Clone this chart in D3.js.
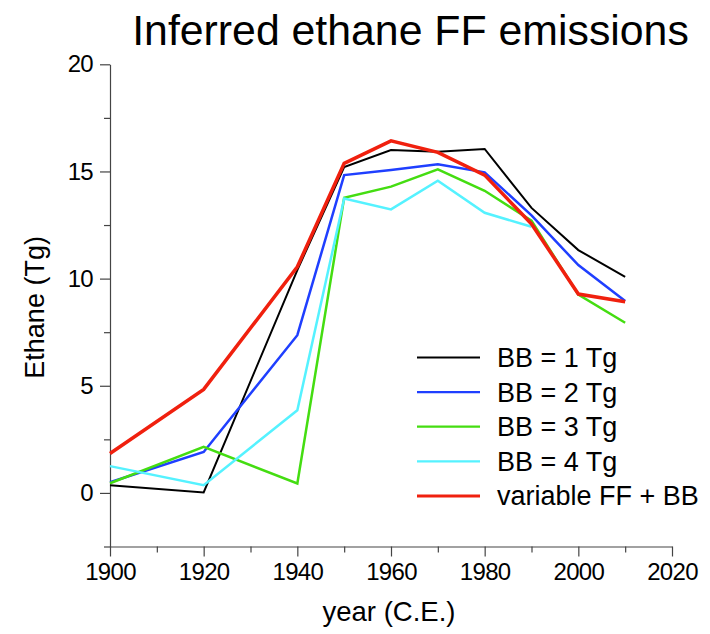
<!DOCTYPE html>
<html>
<head>
<meta charset="utf-8">
<script src="https://cdn.jsdelivr.net/npm/d3@7"></script>
<style>
  html, body { margin: 0; padding: 0; background: #fff; }
  svg { display: block; font-family: "Liberation Sans", Arial, Helvetica, sans-serif; }
</style>
</head>
<body>
<svg id="chart" width="710" height="634"></svg>
<script>
// ---- data ----
const years = [1900, 1920, 1940, 1950, 1960, 1970, 1980, 1990, 2000, 2010];
const bb1 = [0.36, 0.02, 10.4, 15.2, 16.0, 15.92, 16.05, 13.3, 11.33, 10.08];
const bb2 = [0.5, 1.91, 7.36, 14.83, 15.07, 15.34, 14.96, 12.95, 10.63, 8.96];
const bb3 = [0.45, 2.15, 0.44, 13.77, 14.29, 15.1, 14.1, 12.7, 9.25, 7.94];
const bb4 = [1.25, 0.36, 3.86, 13.74, 13.23, 14.57, 13.07, 12.42, null, null];
const variable = [1.84, 4.83, 10.55, 15.38, 16.43, 15.89, 14.83, 12.55, 9.28, 8.92];
const seriesNames = ["BB = 1 Tg", "BB = 2 Tg", "BB = 3 Tg", "BB = 4 Tg", "variable FF + BB"];
const seriesColors = ["#000000", "#1f3fff", "#44dd11", "#55f2ff", "#f0200e"];
const seriesWidths = [2, 2.5, 2.5, 2.5, 3.5];
const xMajorTicks = [1900, 1920, 1940, 1960, 1980, 2000, 2020];
const xMinorTicks = [1910, 1930, 1950, 1970, 1990, 2010];
const yMajorTicks = [0, 5, 10, 15, 20];
const yMinorTicks = [-2.5, 2.5, 7.5, 12.5, 17.5];
const titleText = "Inferred ethane FF emissions";
const xLabel = "year (C.E.)";
const yLabel = "Ethane (Tg)";

const allSeries = [bb1, bb2, bb3, bb4, variable];

// ---- layout ----
const svg = d3.select("#chart");
const x = d3.scaleLinear().domain([1900, 2020]).range([110, 672]);
const y = d3.scaleLinear().domain([-2.5, 20]).range([546.5, 64.3]);
const axisColor = "#444";

// title
svg.append("text")
  .attr("x", 410.5).attr("y", 45)
  .attr("text-anchor", "middle")
  .attr("font-size", 42.8)
  .attr("fill", "#000")
  .text(titleText);

// y axis
const gy = svg.append("g").attr("transform", `translate(${x.range()[0]},0)`);
gy.call(d3.axisLeft(y).tickValues(yMajorTicks).tickSize(10).tickSizeOuter(0).tickPadding(7).tickFormat(d3.format("d")));
gy.append("g").call(d3.axisLeft(y).tickValues(yMinorTicks).tickSize(6).tickSizeOuter(0).tickFormat(""))
  .select(".domain").remove();

// x axis
const gx = svg.append("g").attr("transform", `translate(0,${y.range()[0]})`);
gx.call(d3.axisBottom(x).tickValues(xMajorTicks).tickSize(10).tickSizeOuter(0).tickPadding(6).tickFormat(d3.format("d")));
gx.append("g").call(d3.axisBottom(x).tickValues(xMinorTicks).tickSize(6).tickSizeOuter(0).tickFormat(""))
  .select(".domain").remove();

svg.selectAll(".domain").attr("stroke", axisColor).attr("stroke-width", 1.2);
svg.selectAll(".tick line").attr("stroke", axisColor).attr("stroke-width", 1.2);
svg.selectAll(".tick text").attr("font-size", 24).attr("fill", "#000")
  .attr("letter-spacing", "-0.7px")
  .attr("font-family", "'Liberation Sans', Arial, Helvetica, sans-serif");

// axis titles
svg.append("text")
  .attr("x", 389).attr("y", 621)
  .attr("text-anchor", "middle")
  .attr("font-size", 27.5)
  .text(xLabel);
svg.append("text")
  .attr("transform", `translate(44,${(y(20) + y(-2.5)) / 2 + 2}) rotate(-90)`)
  .attr("text-anchor", "middle")
  .attr("font-size", 27)
  .text(yLabel);

// lines
const line = d3.line()
  .defined(d => d[1] !== null)
  .x(d => x(d[0]))
  .y(d => y(d[1]));

allSeries.forEach((vals, i) => {
  svg.append("path")
    .datum(years.map((yr, j) => [yr, vals[j]]))
    .attr("fill", "none")
    .attr("stroke", seriesColors[i])
    .attr("stroke-width", seriesWidths[i])
    .attr("stroke-linejoin", "miter")
    .attr("d", line);
});

// legend
const leg = svg.append("g").attr("transform", "translate(417,357.5)");
seriesNames.forEach((name, i) => {
  const gRow = leg.append("g").attr("transform", `translate(0,${i * 34.6})`);
  gRow.append("line")
    .attr("x1", 0).attr("x2", 63).attr("y1", 0).attr("y2", 0)
    .attr("stroke", seriesColors[i])
    .attr("stroke-width", i === 4 ? 3 : 2.2);
  gRow.append("text")
    .attr("x", 80).attr("y", 9.5)
    .attr("font-size", 27)
    .attr("fill", "#000")
    .text(name);
});
</script>
</body>
</html>
